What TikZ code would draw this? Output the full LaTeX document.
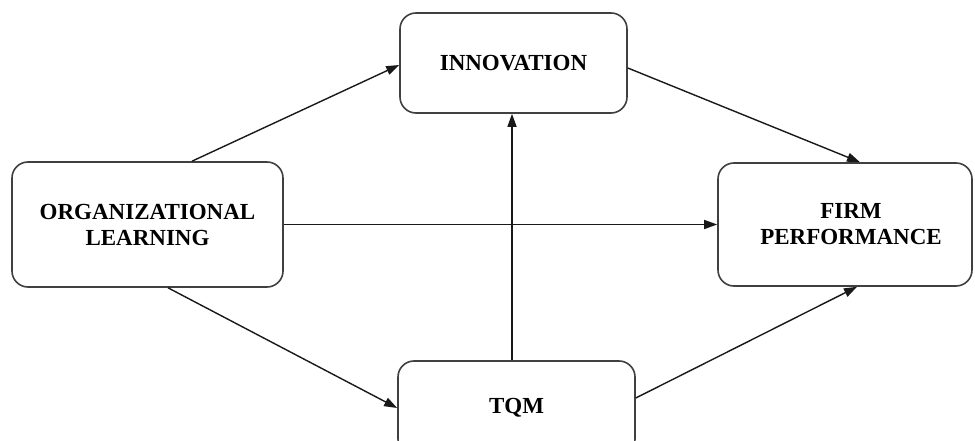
\documentclass[tikz,border=0pt]{standalone}
\usepackage{fontspec}
\setmainfont{Liberation Serif}
\usetikzlibrary{arrows.meta,calc}
\begin{document}
\begin{tikzpicture}[x=1pt,y=-1pt,
  box/.style={draw=black!75, line width=1.6pt, rounded corners=16pt, fill=white,
    align=center, inner sep=0pt,
    font=\fontsize{23}{26}\selectfont\bfseries},
  conn/.style={line width=1.4pt, draw=black!90,
    -{Triangle[length=13pt,width=9pt]}}]
\useasboundingbox (0,0) rectangle (975,441);
\clip (0,0) rectangle (975,441);
\fill[white] (0,0) rectangle (975,441);
\node[box, minimum width=227pt, minimum height=100pt] (inn) at (513.5,63) {INNOVATION};
\node[box, minimum width=271pt, minimum height=125pt] (ol) at (147.5,224.5) {ORGANIZATIONAL\\LEARNING};
\node[box, minimum width=254pt, minimum height=123pt] (fp) at (845,224.5) {\hspace*{12pt}FIRM\\\hspace*{12pt}PERFORMANCE};
\node[box, minimum width=237pt, minimum height=94pt] (tqm) at (516.5,408) {TQM};
\draw[conn] ($(ol.north)+(44.5,0)$) -- ($(inn.west)+(0,2)$);
\draw[conn] ($(inn.east)+(0,5)$) -- ($(fp.north)+(15,0)$);
\draw[conn] (ol.east) -- (fp.west);
\draw[conn] ($(tqm.north)+(-4.5,0)$) -- ($(inn.south)+(-1.5,0)$);
\draw[conn] ($(ol.south)+(20.5,0)$) -- (tqm.west);
\draw[conn] ($(tqm.east)+(0,-10)$) -- ($(fp.south)+(12,0)$);
\end{tikzpicture}
\end{document}
